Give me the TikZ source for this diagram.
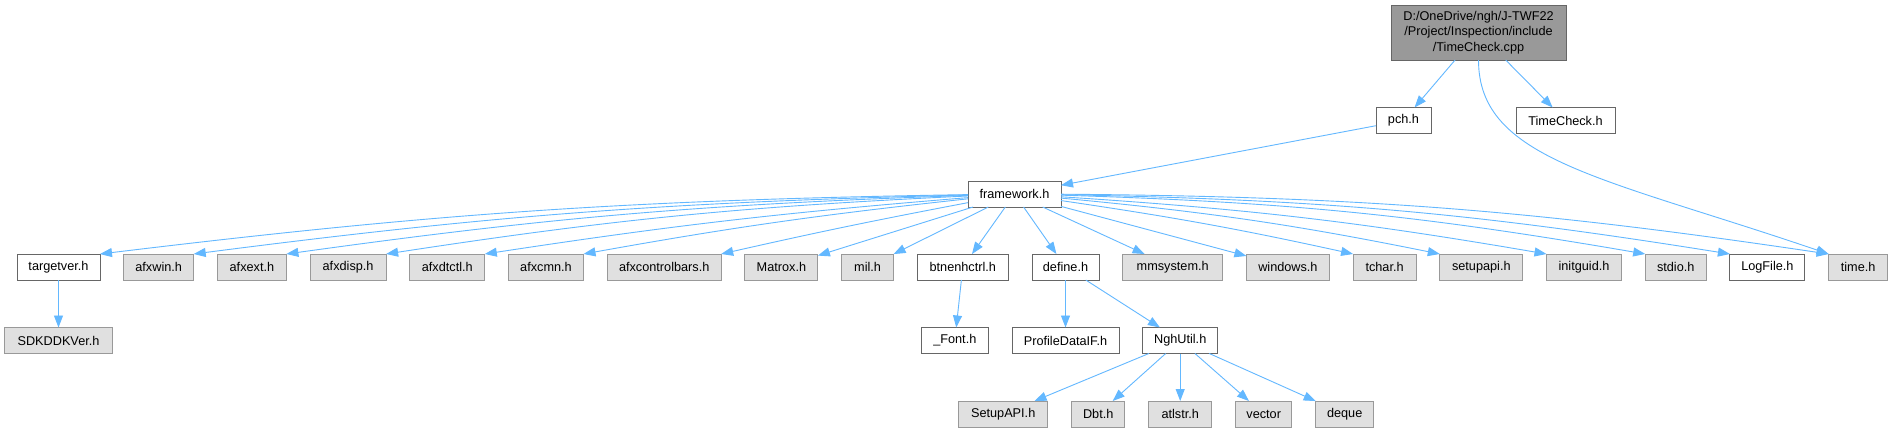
\documentclass[tikz,border=0pt]{standalone}
\usepackage{fontspec}
\setmainfont{Liberation Sans}
\usepackage{xcolor}
\usepackage{tikz}
\usetikzlibrary{positioning,arrows.meta}

\definecolor{edgeblue}{HTML}{63B8FF}
\definecolor{nodegray}{HTML}{E0E0E0}
\definecolor{rootgray}{HTML}{999999}
\definecolor{darkline}{HTML}{666666}
\definecolor{lightline}{HTML}{999999}

\tikzset{
  hdr/.style={draw=darkline, fill=white, line width=1pt, inner sep=0pt, outer sep=0pt,
    minimum height=26pt, font=\fontsize{12.7}{15.5}\selectfont},
  sysh/.style={hdr, draw=lightline, fill=nodegray},
  dep/.style={->, draw=edgeblue, line width=0.9pt},
}

\begin{document}
\begin{tikzpicture}[x=1pt, y=-1pt, node distance=47.5pt and 23.7pt, >={Triangle[length=12pt,width=9pt]}]
    \path[use as bounding box, fill=white] (0,0) rectangle (1895,432);
    \node[hdr, fill=rootgray, minimum width=175pt, minimum height=55pt, align=center] (root) at (1478.5,32.5) {D:/OneDrive/ngh/J-TWF22\\/Project/Inspection/include\\/TimeCheck.cpp};
    \node[hdr, minimum width=55pt] (pch) at (1403.5,120.5) {pch.h};
    \node[hdr, minimum width=99pt] (timecheck) at (1565.5,120.5) {TimeCheck.h};
    \node[hdr, minimum width=93pt] (framework) at (1014.5,194) {framework.h};
    \node[hdr, minimum width=83pt] (targetver) at (58.5,267) {targetver.h};
    \node[sysh, minimum width=70pt, right=of targetver] (afxwin) {afxwin.h};
    \node[sysh, minimum width=69pt, right=of afxwin] (afxext) {afxext.h};
    \node[sysh, minimum width=76pt, right=of afxext] (afxdisp) {afxdisp.h};
    \node[sysh, minimum width=75pt, right=of afxdisp] (afxdtctl) {afxdtctl.h};
    \node[sysh, minimum width=75pt, right=of afxdtctl] (afxcmn) {afxcmn.h};
    \node[sysh, minimum width=114pt, right=of afxcmn] (afxcontrolbars) {afxcontrolbars.h};
    \node[sysh, minimum width=73pt, right=of afxcontrolbars] (matrox) {Matrox.h};
    \node[sysh, minimum width=52pt, right=of matrox] (mil) {mil.h};
    \node[hdr, minimum width=91pt, right=of mil] (btnenhctrl) {btnenhctrl.h};
    \node[hdr, minimum width=67pt, right=of btnenhctrl] (define) {define.h};
    \node[sysh, minimum width=100pt, right=of define] (mmsystem) {mmsystem.h};
    \node[sysh, minimum width=83pt, right=of mmsystem] (windows) {windows.h};
    \node[sysh, minimum width=63pt, right=of windows] (tchar) {tchar.h};
    \node[sysh, minimum width=83pt, right=of tchar] (setupapi) {setupapi.h};
    \node[sysh, minimum width=75pt, right=of setupapi] (initguid) {initguid.h};
    \node[sysh, minimum width=61pt, right=of initguid] (stdio) {stdio.h};
    \node[hdr, minimum width=75pt, right=of stdio] (logfile) {LogFile.h};
    \node[sysh, minimum width=59pt, right=of logfile] (time) {time.h};
    \node[sysh, minimum width=108pt, below=of targetver] (sdkddkver) {SDKDDKVer.h};
    \node[hdr, minimum width=67pt, below=of btnenhctrl, xshift=-8pt] (font) {\_Font.h};
    \node[hdr, minimum width=107pt, below=of define] (profiledataif) {ProfileDataIF.h};
    \node[hdr, minimum width=75pt, right=of profiledataif] (nghutil) {NghUtil.h};
    \node[sysh, minimum width=63pt, below=of nghutil] (atlstr) {atlstr.h};
    \node[sysh, minimum width=53pt, left=24pt of atlstr] (dbt) {Dbt.h};
    \node[sysh, minimum width=89pt, left=24pt of dbt] (setupapiu) {SetupAPI.h};
    \node[sysh, minimum width=56pt, right=24pt of atlstr] (vector) {vector};
    \node[sysh, minimum width=58pt, right=24pt of vector] (deque) {deque};

    \draw[dep] (root) -- (pch);
    \draw[dep] (root) -- (timecheck);
    \draw[dep] (root.south) .. controls +(0,100) and +(-226,-77) .. (time.north west);
    \draw[dep] (pch) -- (framework);
    \draw[dep] (framework) to[bend right=3] (targetver.north east);
    \draw[dep] (framework) to[bend right=3] (afxwin.north east);
    \draw[dep] (framework) to[bend right=3] (afxext.north east);
    \draw[dep] (framework) to[bend right=3] (afxdisp.north east);
    \draw[dep] (framework) to[bend right=2] (afxdtctl.north east);
    \draw[dep] (framework) to[bend right=2] (afxcmn.north east);
    \draw[dep] (framework) to[bend right=1] (afxcontrolbars.north east);
    \draw[dep] (framework) -- (matrox);
    \draw[dep] (framework) -- (mil);
    \draw[dep] (framework) -- (btnenhctrl);
    \draw[dep] (framework) -- (define);
    \draw[dep] (framework) -- (mmsystem);
    \draw[dep] (framework) -- (windows);
    \draw[dep] (framework) to[bend left=2] (tchar.north west);
    \draw[dep] (framework) to[bend left=3] (setupapi.north west);
    \draw[dep] (framework) to[bend left=3] (initguid.north west);
    \draw[dep] (framework) to[bend left=4] (stdio.north west);
    \draw[dep] (framework) to[bend left=4] (logfile.north west);
    \draw[dep] (framework) to[bend left=4] (time.north west);
    \draw[dep] (targetver) -- (sdkddkver);
    \draw[dep] (btnenhctrl) -- (font);
    \draw[dep] (define) -- (profiledataif);
    \draw[dep] (define) -- (nghutil);
    \draw[dep] (nghutil) -- (setupapiu);
    \draw[dep] (nghutil) -- (dbt);
    \draw[dep] (nghutil) -- (atlstr);
    \draw[dep] (nghutil) -- (vector);
    \draw[dep] (nghutil) -- (deque);
  \end{tikzpicture}
\end{document}
